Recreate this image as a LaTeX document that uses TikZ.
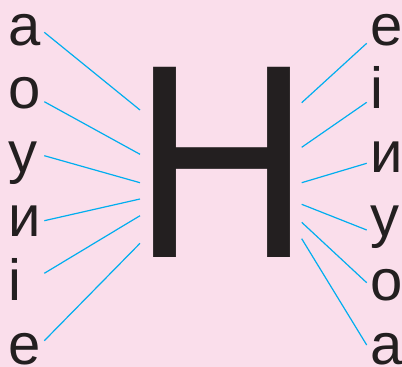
\documentclass[tikz,border=0pt]{standalone}
\usepackage{fontspec}
\setmainfont{Liberation Sans}
\definecolor{bgpink}{RGB}{250,222,235}
\definecolor{linkblue}{RGB}{0,174,239}
\definecolor{inkdark}{RGB}{35,31,32}

\begin{document}
\begin{tikzpicture}[
  x=1pt, y=-1pt,
  letter/.style={anchor=base west, inner sep=0pt, text=inkdark, font=\fontsize{58}{58}\selectfont},
  bigletter/.style={anchor=base west, inner sep=0pt, text=inkdark, font=\fontsize{276.5}{276.5}\selectfont},
  link/.style={draw=linkblue, line width=1.2pt}
]

% page size and background
\useasboundingbox (0,0) rectangle (402,367);
\fill[bgpink] (0,0) rectangle (402,367);

% the big letter in the middle
\node[bigletter] (H) at (133.1,257.3) {\scalebox{0.886}[1]{Н}};

% vowels on both sides
\foreach \t [count=\i] in {а,о,у,и,і,е}
  \node[letter] (l\i) at (8.5,{45+63.8*(\i-1)}) {\t};
\foreach \t [count=\i] in {е,і,и,у,о,а}
  \node[letter] (r\i) at (370.5,{45+63.8*(\i-1)}) {\t};

% links from the vowels to the letter
\foreach \ys/\ye [count=\i] in {32.3/110, 101.7/154.3, 155.7/182.7, 220.7/199, 273.3/215.7, 340.7/243.3} {
  \coordinate (ls\i) at (44.3,\ys);
  \coordinate (lh\i) at (140,\ye);
  \draw[link] (ls\i) -- (lh\i);
}
\foreach \ys/\ye [count=\i] in {43.3/102.7, 102.3/147.3, 163.3/182.7, 230/204.3, 282.7/222.3, 345/238.7} {
  \coordinate (rs\i) at (366.7,\ys);
  \coordinate (rh\i) at (301.7,\ye);
  \draw[link] (rh\i) -- (rs\i);
}

\end{tikzpicture}
\end{document}
